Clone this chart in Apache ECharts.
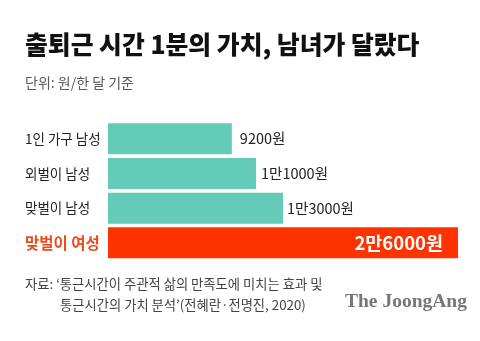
<!DOCTYPE html>
<html>
<head>
<meta charset="utf-8">
<script src="https://cdn.jsdelivr.net/npm/echarts@6/dist/echarts.min.js"></script>
<style>
  html, body { margin: 0; padding: 0; background: #fff; }
  #chart { width: 480px; height: 341px; }
</style>
</head>
<body>
<div id="chart"></div>
<script>
// Value of one commuting minute, won per month
const categories = ['1인 가구 남성', '외벌이 남성', '맞벌이 남성', '맞벌이 여성'];
const values = [9200, 11000, 13000, 26000];
const valueLabels = ['9200원', '1만1000원', '1만3000원', '2만6000원'];
const labelGaps = [8, 5, 4, 15];

const KR = '"Noto Sans CJK KR", "Noto Sans", sans-serif';
const TEAL = '#63cbb8';
const RED = '#ff3300';

const chart = echarts.init(document.getElementById('chart'), null, { renderer: 'canvas' });

const seriesData = values.map((v, i) => {
  const last = i === values.length - 1;
  return {
    value: v,
    itemStyle: { color: last ? RED : TEAL },
    label: {
      show: true,
      position: last ? 'insideRight' : 'right',
      distance: labelGaps[i],
      formatter: valueLabels[i],
      color: last ? '#fff' : '#222',
      fontWeight: last ? 'bold' : 'normal',
      fontSize: last ? 18.5 : 14.5,
      fontFamily: KR
    }
  };
});

chart.setOption({
  animation: false,
  grid: { left: 108, top: 121.5, width: 350, height: 138.7, containLabel: false },
  xAxis: {
    type: 'value', min: 0, max: 26000,
    show: false
  },
  yAxis: {
    type: 'category',
    inverse: true,
    data: categories,
    axisLine: { show: false },
    axisTick: { show: false },
    axisLabel: {
      align: 'left',
      margin: 83,
      fontFamily: KR,
      fontSize: 13.5,
      color: '#222',
      formatter: (v, i) => i === categories.length - 1 ? '{hl|' + v + '}' : v,
      rich: { hl: { color: '#ee4a1a', fontWeight: 'bold', fontSize: 15.5, fontFamily: KR } }
    }
  },
  series: [{
    type: 'bar',
    data: seriesData,
    barWidth: 31,
    silent: true
  }],
  graphic: [
    { type: 'text', left: 25, top: 32, style: { text: '출퇴근 시간 1분의 가치, 남녀가 달랐다', fontFamily: KR, fontWeight: 900, fontSize: 24.8, fill: '#111' } },
    { type: 'text', left: 25, top: 76, style: { text: '단위: 원/한 달 기준', fontFamily: KR, fontSize: 14, fill: '#5a5a5a' } },
    { type: 'text', left: 25, top: 277, style: { text: '자료: ‘통근시간이 주관적 삶의 만족도에 미치는 효과 및', fontFamily: KR, fontSize: 13.3, fill: '#444' } },
    { type: 'text', left: 60, top: 298, style: { text: '통근시간의 가치 분석’(전혜란·전명진, 2020)', fontFamily: KR, fontSize: 13.3, fill: '#444' } },
    { type: 'text', left: 345, top: 292, style: { text: 'The JoongAng', fontFamily: '"Liberation Serif", "DejaVu Serif", serif', fontWeight: 'bold', fontSize: 19.5, fill: '#777' } }
  ]
});
</script>
</body>
</html>
